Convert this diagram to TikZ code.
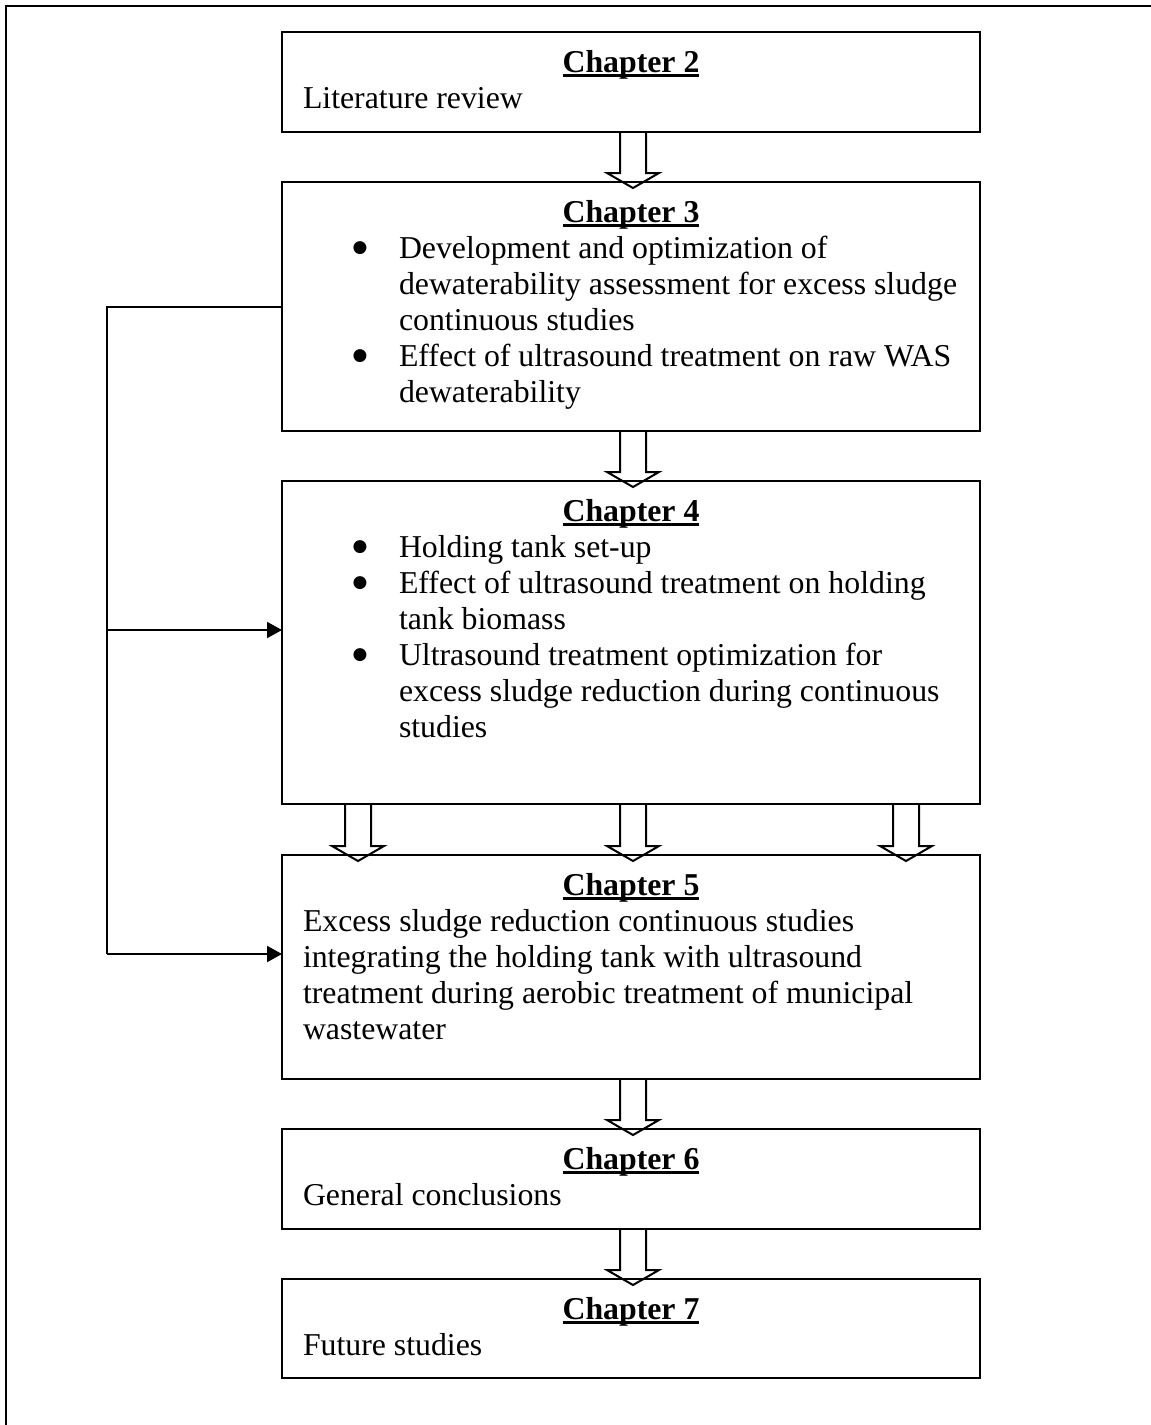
\documentclass[tikz,border=0pt]{standalone}
\usepackage{fontspec}
\setmainfont{Liberation Serif}
\newfontfamily\symf{DejaVu Sans}
\usetikzlibrary{arrows.meta,calc}
\newcommand{\chhead}[1]{\setbox0=\hbox{\bfseries #1}\leavevmode\rlap{\raisebox{-2.6pt}{\rule{\wd0}{1.4pt}}}\box0}
\newcommand{\bigbul}{\raisebox{3pt}{\fontsize{8.5pt}{8.5pt}\symf ●}}
\newcommand{\bitem}[1]{\makebox[23.25pt][l]{\bigbul}#1}
\newcommand{\bcont}[1]{\hspace*{23.25pt}#1}
\newcommand{\blockarrow}[3]{%
  \draw[blk] let \p1=($(#1.south)+(#3,0)$), \p2=(#2.north) in
    (\x1-6.5pt,\y1) -- (\x1-6.5pt,\y2+4.5pt) -- (\x1-13pt,\y2+4.5pt) -- (\x1,\y2-3pt)
    -- (\x1+13pt,\y2+4.5pt) -- (\x1+6.5pt,\y2+4.5pt) -- (\x1+6.5pt,\y1);}
\tikzset{
  chbox/.style={draw, line width=1pt, inner sep=0pt, outer sep=0pt, minimum width=349pt, anchor=north west},
  txt/.style={inner sep=0pt, outer sep=0pt, font=\fontsize{15.9pt}{18pt}\selectfont},
  head/.style={txt, anchor=base},
  body/.style={txt, anchor=base west},
  blk/.style={line width=1pt, line join=miter},
  fb/.style={line width=1pt, -{Triangle[length=7.5pt,width=8pt]}},
  fbline/.style={line width=1pt}
}
\begin{document}
\begin{tikzpicture}[x=0.5pt,y=-0.5pt]
\useasboundingbox (0,0) rectangle (1151,1425);
% outer frame (left and top edges)
\draw[line width=1pt] (6,1425) -- (6,6) -- (1151,6);

% chapter boxes
\node[chbox, minimum height=50pt]    (c2) at (282,32)   {};
\node[chbox, minimum height=124.5pt] (c3) at (282,182)  {};
\node[chbox, minimum height=161.5pt] (c4) at (282,481)  {};
\node[chbox, minimum height=112pt]   (c5) at (282,855)  {};
\node[chbox, minimum height=50pt]    (c6) at (282,1129) {};
\node[chbox, minimum height=49.5pt]  (c7) at (282,1279) {};

% headings
\node[head] (h2) at ($(c2.north)+(0,40)$) {\chhead{Chapter 2}};
\node[head] (h3) at ($(c3.north)+(0,40)$) {\chhead{Chapter 3}};
\node[head] (h4) at ($(c4.north)+(0,40)$) {\chhead{Chapter 4}};
\node[head] (h5) at ($(c5.north)+(0,40)$) {\chhead{Chapter 5}};
\node[head] (h6) at ($(c6.north)+(0,40)$) {\chhead{Chapter 6}};
\node[head] (h7) at ($(c7.north)+(0,40)$) {\chhead{Chapter 7}};

% body texts
\node[body] (t2) at ($(c2.north west)+(21,76)$) {\parbox[t]{330pt}{Literature review}};
\node[body] (t3) at ($(c3.north west)+(70.5,76)$) {\parbox[t]{330pt}{%
\bitem{Development and optimization of}\\
\bcont{dewaterability assessment for excess sludge}\\
\bcont{continuous studies}\\
\bitem{Effect of ultrasound treatment on raw WAS}\\
\bcont{dewaterability}}};
\node[body] (t4) at ($(c4.north west)+(70.5,76)$) {\parbox[t]{330pt}{%
\bitem{Holding tank set-up}\\
\bitem{Effect of ultrasound treatment on holding}\\
\bcont{tank biomass}\\
\bitem{Ultrasound treatment optimization for}\\
\bcont{excess sludge reduction during continuous}\\
\bcont{studies}}};
\node[body] (t5) at ($(c5.north west)+(21,76)$) {\parbox[t]{340pt}{%
Excess sludge reduction continuous studies\\
integrating the holding tank with ultrasound\\
treatment during aerobic treatment of municipal\\
wastewater}};
\node[body] (t6) at ($(c6.north west)+(21,76)$) {\parbox[t]{330pt}{General conclusions}};
\node[body] (t7) at ($(c7.north west)+(21,76)$) {\parbox[t]{330pt}{Future studies}};

% block arrows
\blockarrow{c2}{c3}{2}
\blockarrow{c3}{c4}{2}
\blockarrow{c4}{c5}{-273}
\blockarrow{c4}{c5}{2}
\blockarrow{c4}{c5}{275}
\blockarrow{c5}{c6}{2}
\blockarrow{c6}{c7}{2}

% feedback connectors
\coordinate (fbl) at (107,0);
\coordinate (in4) at ($(c4.west)+(0,-12.5)$);
\coordinate (in5) at ($(c5.west)+(0,-13)$);
\draw[fbline] (c3.west) -- (c3.west -| fbl) -- (in5 -| fbl);
\draw[fb] (in4 -| fbl) -- (in4);
\draw[fb] (in5 -| fbl) -- (in5);
\end{tikzpicture}
\end{document}
